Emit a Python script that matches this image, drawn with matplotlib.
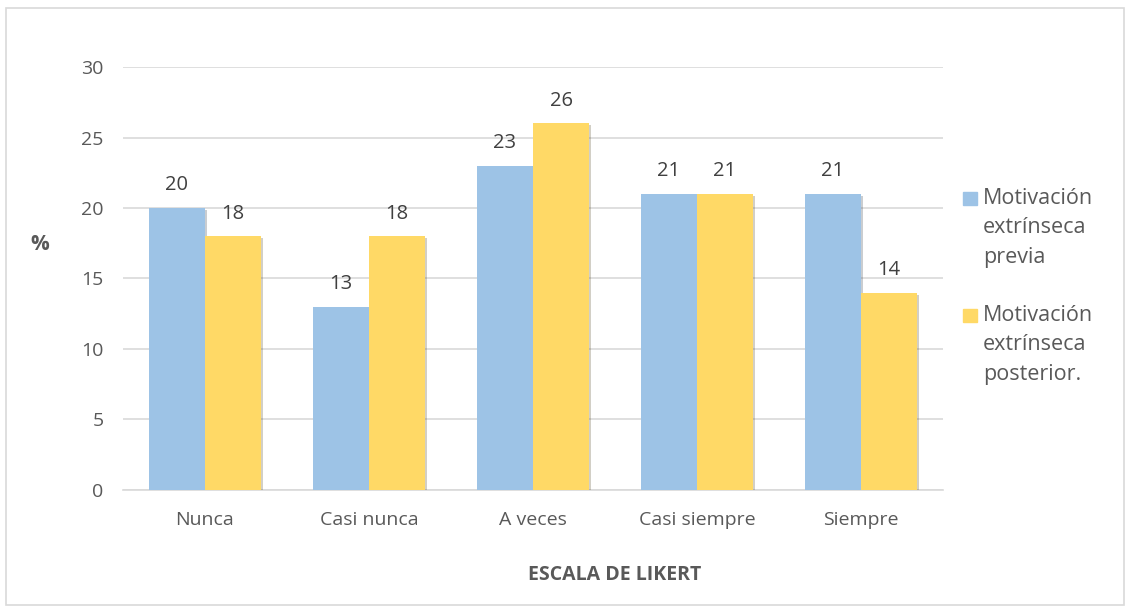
import numpy as np
import matplotlib.pyplot as plt
import matplotlib.patheffects as pe
from matplotlib.patches import Rectangle

plt.rcParams['font.family'] = ['Open Sans', 'DejaVu Sans']

categories = ['Nunca', 'Casi nunca', 'A veces', 'Casi siempre', 'Siempre']
previa = [20, 13, 23, 21, 21]
posterior = [18, 18, 26, 21, 14]
series_names = ['Motivación\nextrínseca\nprevia', 'Motivación\nextrínseca\nposterior.']

blue = '#9DC3E6'
yellow = '#FFD966'
text_color = '#595959'

fig = plt.figure(figsize=(11.3, 6.07), dpi=100)
ax = fig.add_axes([0.1088, 0.1928, 0.7257, 0.6968])

# outer chart border
fig.patches.append(Rectangle((0.005, 0.004), 0.99, 0.983, transform=fig.transFigure,
                             fill=False, edgecolor='#D9D9D9', linewidth=1.2))

x = np.arange(len(categories))
w = 0.342
shadow = [pe.SimplePatchShadow(offset=(1.5, -1.5), alpha=0.25), pe.Normal()]
b1 = ax.bar(x - w / 2, previa, w, color=blue, zorder=3, path_effects=shadow)
b2 = ax.bar(x + w / 2, posterior, w, color=yellow, zorder=3, path_effects=shadow)

for bars, vals in ((b1, previa), (b2, posterior)):
    for bar, v in zip(bars, vals):
        ax.annotate(str(v), (bar.get_x() + bar.get_width() / 2, v),
                    xytext=(0, 9), textcoords='offset points',
                    ha='center', va='bottom', fontsize=14.5, color='#404040')

ax.set_xlim(-0.5, len(categories) - 0.5)
ax.set_ylim(0, 30)
ax.set_yticks(range(0, 31, 5))
ax.set_xticks(x)
ax.set_xticklabels(categories)
ax.tick_params(axis='both', length=0, labelsize=14, colors=text_color)
ax.tick_params(axis='y', pad=14)
ax.tick_params(axis='x', pad=15)
ax.grid(axis='y', color='#D9D9D9', linewidth=1.2, zorder=0)
for s in ['top', 'right', 'left']:
    ax.spines[s].set_visible(False)
ax.spines['bottom'].set_color('#D9D9D9')
ax.spines['bottom'].set_linewidth(1.2)

ax.text(-0.101, 0.58, '%', transform=ax.transAxes, fontsize=15, fontweight='bold',
        color=text_color, ha='center', va='center')
ax.text(0.6, -0.2, 'ESCALA DE LIKERT', transform=ax.transAxes, fontsize=14,
        fontweight='bold', color=text_color, ha='center', va='center')

# legend: square swatch next to the first line of each wrapped label
line_step = 29.5 / 423
for i, (name, col) in enumerate(zip(series_names, [blue, yellow])):
    y0 = 0.690 - i * 0.277
    ax.add_patch(Rectangle((1.0244, y0 - 0.0154), 14 / 820, 0.0308, transform=ax.transAxes,
                           color=col, clip_on=False))
    for j, line in enumerate(name.split('\n')):
        ax.text(1.049, y0 - j * line_step, line, transform=ax.transAxes, fontsize=15.5,
                color=text_color, ha='left', va='center')

fig.savefig('out.png', dpi=100)
